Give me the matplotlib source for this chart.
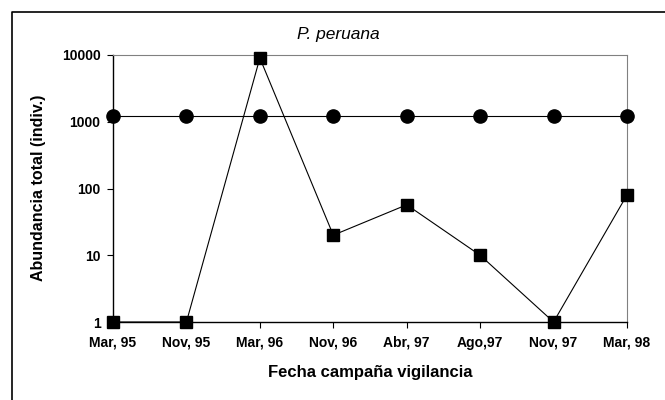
import matplotlib
matplotlib.use("Agg")
import matplotlib.pyplot as plt
from matplotlib.lines import Line2D

categories = ["Mar, 95", "Nov, 95", "Mar, 96", "Nov, 96", "Abr, 97", "Ago,97", "Nov, 97", "Mar, 98"]
circles = [1200, 1200, 1200, 1200, 1200, 1200, 1200, 1200]
squares = [1, 1, 9000, 20, 57, 10, 1, 80]
yticks = [1, 10, 100, 1000, 10000]

plt.rcParams['font.family'] = ['Liberation Sans', 'DejaVu Sans']

W, H = 665, 400
fig = plt.figure(figsize=(W/100, H/100), dpi=100)
# outer chart frame (only left and top edges visible)
fig.lines.append(Line2D([12/W, 12/W, 1.0], [0.0, 1-12/H, 1-12/H], transform=fig.transFigure,
                        color='black', linewidth=1.2))

x0, x1, yt, yb = 113, 627, 55, 322
ax = fig.add_axes([x0/W, 1-yb/H, (x1-x0)/W, (yb-yt)/H])
x = list(range(len(categories)))
ax.plot(x, circles, color='black', lw=0.8, marker='o', ms=9.5, clip_on=False, zorder=3)
ax.plot(x, squares, color='black', lw=0.8, marker='s', ms=8.5, clip_on=False, zorder=4)
ax.set_yscale('log')
ax.set_ylim(1, 10000)
ax.set_xlim(0, len(categories)-1)
ax.set_yticks(yticks)
ax.set_yticklabels([str(v) for v in yticks], fontsize=10, fontweight='bold')
ax.yaxis.set_minor_locator(matplotlib.ticker.NullLocator())
ax.set_xticks(x)
ax.set_xticklabels(categories, fontsize=10, fontweight='bold')
ax.tick_params(axis='both', direction='out', length=4, width=0.8, color='black')
ax.tick_params(axis='x', pad=6)
ax.tick_params(axis='y', pad=5)
for s in ['top', 'right']:
    ax.spines[s].set_color('#808080')
    ax.spines[s].set_linewidth(0.8)
for s in ['left', 'bottom']:
    ax.spines[s].set_color('black')
    ax.spines[s].set_linewidth(1.0)

fig.text(338/W, 1-34/H, "P. peruana", ha='center', va='center', fontsize=12.5, style='italic')
fig.text(39/W, 1-188/H, "Abundancia total (indiv.)", rotation=90, ha='center', va='center',
         fontsize=11.5, fontweight='bold')
fig.text(370/W, 1-373/H, "Fecha campaña vigilancia", ha='center', va='center', fontsize=12,
         fontweight='bold')

fig.savefig("out.png", dpi=100)
